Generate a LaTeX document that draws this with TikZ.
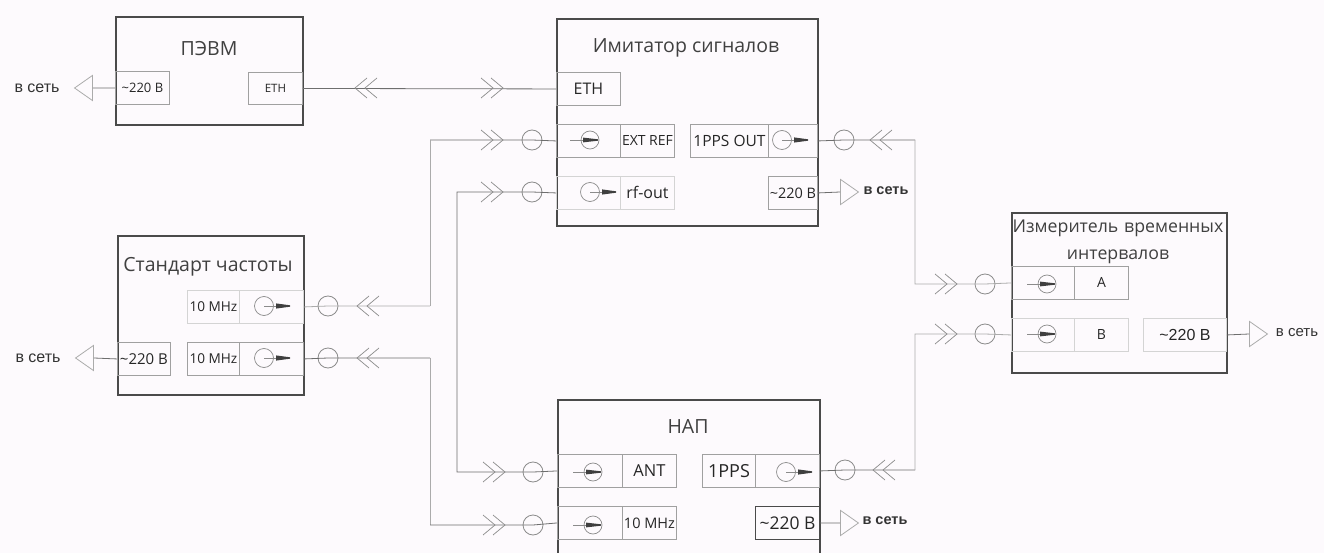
\documentclass[tikz,border=0pt]{standalone}
\usepackage{fontspec}
\setmainfont{Open Sans}
\newfontfamily\netfont{Liberation Sans}
\usetikzlibrary{calc,shapes.geometric}
\definecolor{paper}{HTML}{FDFAFD}
\definecolor{ink}{HTML}{4A4A4A}
\definecolor{wirecol}{HTML}{6E6E6E}
\definecolor{palecol}{HTML}{ABABAB}
\definecolor{cellcol}{HTML}{A0A0A0}
\def\chevright(#1){\draw[chev] ($(#1)+(-12,-10)$) -- (#1) -- ($(#1)+(-12,10)$); \draw[chev] ($(#1)+(-22,-10)$) -- ($(#1)+(-10,0)$) -- ($(#1)+(-22,10)$);}
\def\chevleft(#1){\draw[chev] ($(#1)+(12,-10)$) -- (#1) -- ($(#1)+(12,10)$); \draw[chev] ($(#1)+(22,-10)$) -- ($(#1)+(10,0)$) -- ($(#1)+(22,10)$);}
\def\jackin(#1){\draw[jack] ($(#1)+(-20,0)$) -- ($(#1)+(-7,0)$); \fill[ink!85!black] ($(#1)+(-7,-2.4)$) -- ($(#1)+(8,-0.7)$) -- ($(#1)+(8,0.7)$) -- ($(#1)+(-7,2.4)$) -- cycle; \draw[jack] (#1) circle (9);}
\def\jackout(#1){\draw[jack] (#1) circle (9.5); \draw[jack] (#1) -- ($(#1)+(13,0)$); \fill[ink!85!black] ($(#1)+(12,-2.6)$) -- ($(#1)+(26,-0.7)$) -- ($(#1)+(26,0.7)$) -- ($(#1)+(12,2.6)$) -- cycle;}
\tikzset{
	devicebox/.style={draw=ink, line width=1.6pt, anchor=north west, inner sep=0pt},
	cellbox/.style={draw=cellcol, line width=0.9pt, anchor=north west, inner sep=0pt, align=center, text=black!85},
	palecell/.style={cellbox, draw=cellcol!45},
	title/.style={font=\fontsize{19.5}{24}\selectfont, text=black!75, align=center},
	ring/.style={circle, draw=wirecol!80, line width=0.8pt, minimum size=20pt, inner sep=0pt},
	wire/.style={draw=wirecol, line width=0.8pt},
	paleline/.style={draw=palecol, line width=0.8pt},
	chev/.style={draw=wirecol!80, line width=0.7pt},
	jack/.style={draw=wirecol!80, line width=0.7pt},
	plug/.style={isosceles triangle, isosceles triangle apex angle=70, draw=palecol, line width=0.8pt, inner sep=0pt, minimum height=18pt},
	net/.style={font=\netfont\fontsize{16}{18}\selectfont, text=black!80},
	netbold/.style={font=\netfont\bfseries\fontsize{14.5}{18}\selectfont, text=black!80}
}
\begin{document}
\begin{tikzpicture}[x=1pt,y=-1pt]
			%%%%% START %%%%%
			\fill[paper] (0, 0) rectangle (1324, 553);
			\useasboundingbox (0, 0) rectangle (1324, 553);
			
			% devices
			\node[devicebox, minimum width=187pt, minimum height=108pt] (pc) at (115, 16) {};
			\node[devicebox, minimum width=261pt, minimum height=207pt] (sim) at (556, 18) {};
			\node[devicebox, minimum width=186pt, minimum height=159pt] (std) at (117, 235) {};
			\node[devicebox, minimum width=215pt, minimum height=160pt] (meter) at (1011, 212) {};
			\node[devicebox, minimum width=262pt, minimum height=170pt] (nap) at (557, 399) {};
			
			\node[title] (pctitle) at (209, 49) {ПЭВМ};
			\node[title] (simtitle) at (686, 48) {Имитатор сигналов};
			\node[title] (stdtitle) at (208, 267) {Стандарт частоты};
			\node[title, text width=215pt, font=\fontsize{17.7}{27}\selectfont] (metertitle) at (1118, 242) {Измеритель временных\\интервалов};
			\node[title] (naptitle) at (688, 427) {НАП};
			
			% ПЭВМ
			\node[cellbox, minimum width=54pt, minimum height=33pt, font=\fontsize{13}{15}\selectfont] (pcpower) at (115, 71) {\textasciitilde220 В};
			\node[cellbox, minimum width=54pt, minimum height=32pt, font=\fontsize{11.5}{14}\selectfont] (pceth) at (248, 72) {ETH};
			
			% Имитатор
			\node[cellbox, minimum width=64pt, minimum height=33pt, font=\fontsize{16}{18}\selectfont] (simeth) at (556, 72) {ETH};
			\node[cellbox, minimum width=64pt, minimum height=33pt] (simrefjack) at (556, 124) {};
			\node[cellbox, minimum width=54pt, minimum height=33pt, font=\fontsize{14}{16}\selectfont] (simref) at (620, 124) {EXT REF};
			\node[cellbox, minimum width=78pt, minimum height=33pt, font=\fontsize{15.5}{18}\selectfont] (simpps) at (690, 124) {1PPS OUT};
			\node[cellbox, minimum width=49pt, minimum height=33pt] (simppsjack) at (768, 124) {};
			\node[palecell, minimum width=64pt, minimum height=33pt] (simrfjack) at (556, 176) {};
			\node[palecell, minimum width=54pt, minimum height=33pt, font=\fontsize{16}{18}\selectfont] (simrf) at (620, 176) {rf-out};
			\node[cellbox, minimum width=49pt, minimum height=33pt, font=\fontsize{14.5}{16}\selectfont] (simpower) at (768, 176) {\textasciitilde220 В};
			
			% Стандарт частоты
			\node[palecell, minimum width=52pt, minimum height=33pt, font=\fontsize{13.6}{16}\selectfont] (stdtop) at (187, 290) {10 MHz};
			\node[palecell, minimum width=64pt, minimum height=33pt] (stdtopjack) at (239, 290) {};
			\node[cellbox, minimum width=53pt, minimum height=33pt, font=\fontsize{15}{17}\selectfont] (stdpower) at (117, 342) {\textasciitilde220 В};
			\node[cellbox, minimum width=52pt, minimum height=33pt, font=\fontsize{13.6}{16}\selectfont] (stdlow) at (187, 342) {10 MHz};
			\node[cellbox, minimum width=64pt, minimum height=33pt] (stdlowjack) at (239, 342) {};
			
			% Измеритель
			\node[cellbox, minimum width=63pt, minimum height=33pt] (meterajack) at (1011, 266) {};
			\node[cellbox, minimum width=54pt, minimum height=33pt, font=\fontsize{14}{16}\selectfont] (metera) at (1074, 266) {A};
			\node[palecell, minimum width=63pt, minimum height=33pt] (meterbjack) at (1011, 318) {};
			\node[palecell, minimum width=54pt, minimum height=33pt, font=\fontsize{14}{16}\selectfont] (meterb) at (1074, 318) {B};
			\node[palecell, minimum width=83pt, minimum height=33pt, font=\netfont\fontsize{16}{18}\selectfont] (meterpower) at (1143, 318) {\textasciitilde220 В};
			
			% НАП
			\node[cellbox, minimum width=65pt, minimum height=33pt] (napantjack) at (557, 454) {};
			\node[cellbox, minimum width=54pt, minimum height=33pt, font=\fontsize{16.5}{18}\selectfont] (napant) at (622, 454) {ANT};
			\node[cellbox, minimum width=53pt, minimum height=33pt, font=\fontsize{18}{20}\selectfont] (nappps) at (702, 454) {1PPS};
			\node[cellbox, minimum width=64pt, minimum height=33pt] (napppsjack) at (755, 454) {};
			\node[cellbox, minimum width=65pt, minimum height=33pt] (napclkjack) at (557, 506) {};
			\node[cellbox, minimum width=54pt, minimum height=33pt, font=\fontsize{14.5}{16}\selectfont] (napclk) at (622, 506) {10 MHz};
			\node[cellbox, draw=ink, minimum width=64pt, minimum height=33pt, font=\fontsize{17.5}{20}\selectfont] (nappower) at (755, 506) {\textasciitilde220 В};
			
			% rings on the cables
			\node[ring] (ringref) at (532, 140) {};
			\node[ring] (ringrf) at (532, 192) {};
			\node[ring] (ringpps) at (844, 140) {};
			\node[ring] (ringstdtop) at (328, 306) {};
			\node[ring] (ringstdlow) at (328, 358) {};
			\node[ring] (ringa) at (985, 284) {};
			\node[ring] (ringb) at (985, 334) {};
			\node[ring] (ringant) at (533, 472) {};
			\node[ring] (ringclk) at (533, 525) {};
			\node[ring] (ringnap) at (845, 470) {};
			
			% corners of the cables
			\coordinate (turnrefup) at (430, 140);
			\coordinate (turnreflow) at (430, 306);
			\coordinate (turnrfup) at (457, 192);
			\coordinate (turnrflow) at (457, 472);
			\coordinate (turnclkup) at (430, 358);
			\coordinate (turnclklow) at (430, 525);
			\coordinate (turnppsup) at (915, 140);
			\coordinate (turnppslow) at (915, 284);
			\coordinate (turnnapup) at (915, 334);
			\coordinate (turnnaplow) at (915, 470);
			
			% cables
			\draw[wire] (pceth.east) -- (simeth.west);
			\draw[wire] (simrefjack.west) -- (ringref.center) -- (turnrefup);
			\draw[paleline] (turnrefup) -- (turnreflow);
			\draw[paleline] (turnreflow) -- (ringstdtop.center) -- (stdtopjack.east);
			\draw[wire] (simrfjack.west) -- (ringrf.center) -- (turnrfup) -- (turnrflow) -- (ringant.center) -- (napantjack.west);
			\draw[wire] (stdlowjack.east) -- (ringstdlow.center) -- (turnclkup);
			\draw[paleline] (turnclkup) -- (turnclklow);
			\draw[wire] (turnclklow) -- (ringclk.center) -- (napclkjack.west);
			\draw[wire] (simppsjack.east) -- (ringpps.center) -- (turnppsup);
			\draw[paleline] (turnppsup) -- (turnppslow) -- (ringa.center) -- (meterajack.west);
			\draw[wire] (napppsjack.east) -- (ringnap.center) -- (turnnaplow);
			\draw[paleline] (turnnaplow) -- (turnnapup) -- (ringb.center) -- (meterbjack.west);
			
			\chevleft(355, 88)
			\chevright(503, 88)
			\chevright(503, 140)
			\chevright(503, 192)
			\chevleft(870, 140)
			\chevleft(357, 306)
			\chevleft(357, 358)
			\chevright(957, 284)
			\chevright(957, 334)
			\chevright(505, 472)
			\chevright(505, 525)
			\chevleft(873, 470)
			
			% sockets
			\jackin(590, 140)
			\jackout(590, 192)
			\jackout(782, 140)
			\jackout(264, 306)
			\jackout(264, 358)
			\jackin(1047, 284)
			\jackin(1047, 334)
			\jackin(593, 472)
			\jackin(593, 525)
			\jackout(786, 472)
			
			% mains
			\node[net] (netpc) at (37, 88) {в сеть};
			\node[net] (netstd) at (38, 358) {в сеть};
			\node[netbold] (netsim) at (886, 191) {в сеть};
			\node[netbold] (netnap) at (885, 521) {в сеть};
			\node[net, font=\netfont\fontsize{15}{18}\selectfont] (netmeter) at (1297, 333) {в сеть};
			\node[plug, shape border rotate=180] (plugpc) at (86, 88) {};
			\node[plug, shape border rotate=180] (plugstd) at (87, 358) {};
			\node[plug] (plugsim) at (847, 192) {};
			\node[plug] (plugnap) at (847, 523) {};
			\node[plug] (plugmeter) at (1256, 334) {};
			\draw[wire] (plugpc.east) -- (pcpower.west);
			\draw[wire] (plugstd.east) -- (stdpower.west);
			\draw[wire] (simpower.east) -- (plugsim.west);
			\draw[wire] (nappower.east) -- (plugnap.west);
			\draw[wire] (meterpower.east) -- (plugmeter.west);
			%%%%% END %%%%%
		\end{tikzpicture}
\end{document}
